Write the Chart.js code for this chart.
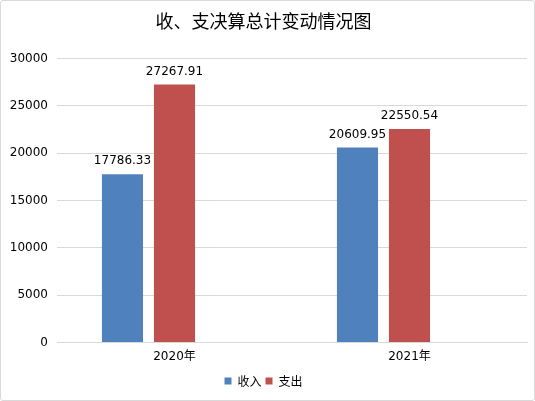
<!DOCTYPE html>
<html>
<head>
<meta charset="utf-8">
<script src="https://cdn.jsdelivr.net/npm/chart.js@4"></script>
<style>
  html, body { margin: 0; padding: 0; background: #fff; }
  #wrap { position: relative; width: 535px; height: 401px; }
  #frame { position: absolute; left: 0; top: 0; width: 535px; height: 401px; box-sizing: border-box;
           border: 1px solid #d9d9d9; border-radius: 3px; pointer-events: none; }
</style>
</head>
<body>
<div id="wrap">
  <canvas id="c" width="535" height="401"></canvas>
  <div id="frame"></div>
</div>
<script>
/* 收、支决算总计变动情况图 — two-year income / spending bars with value labels */
const years = ["2020年", "2021年"];
const income = [17786.33, 20609.95];
const spend = [27267.91, 22550.54];
const blank = [null, null]; // empty third slot, as in the source sheet
const yTicks = [0, 5000, 10000, 15000, 20000, 25000, 30000];

const C = { blue: "#4F81BD", red: "#C0504D", grid: "#d9d9d9", text: "#000" };
const NUM = "'DejaVu Sans', 'Noto Sans CJK SC', sans-serif";
const CJK = "'Noto Sans CJK SC', 'DejaVu Sans', sans-serif";

// value labels above each bar
const barLabels = {
  id: "barLabels",
  afterDatasetsDraw(chart) {
    const ctx = chart.ctx;
    ctx.save();
    ctx.font = "12px " + NUM;
    ctx.fillStyle = C.text;
    ctx.textAlign = "center";
    ctx.textBaseline = "bottom";
    [0, 1].forEach((i) => {
      const meta = chart.getDatasetMeta(i);
      meta.data.forEach((bar, j) => {
        const v = chart.data.datasets[i].data[j];
        if (v == null) return;
        ctx.fillText(v.toFixed(2), bar.x, bar.y - 7);
      });
    });
    ctx.restore();
  },
};

new Chart(document.getElementById("c"), {
  type: "bar",
  data: {
    labels: years,
    datasets: [
      { label: "收入", data: income, backgroundColor: C.blue },
      { label: "支出", data: spend, backgroundColor: C.red },
      { label: "", data: blank, backgroundColor: "rgba(0,0,0,0)" },
    ],
  },
  options: {
    responsive: false, animation: false,
    layout: { padding: { left: 0, right: 8, top: 0, bottom: 4 } },
    datasets: { bar: { categoryPercentage: 0.664, barPercentage: 0.79 } },
    plugins: {
      title: { display: true, text: "收、支决算总计变动情况图", color: C.text,
        font: { family: CJK, size: 18, weight: "normal" }, padding: { top: 10, bottom: 27 } },
      legend: { position: "bottom",
        labels: { color: C.text, font: { family: CJK, size: 12 }, boxWidth: 7, boxHeight: 7, padding: 4,
          filter: (item) => item.datasetIndex < 2 } },
      tooltip: { enabled: false },
    },
    scales: {
      x: {
        grid: { display: false, drawTicks: false },
        border: { color: C.grid },
        ticks: { color: C.text, font: { family: NUM, size: 12 }, padding: 7 },
      },
      y: {
        min: 0, max: 30000,
        afterBuildTicks: (s) => { s.ticks = yTicks.map((v) => ({ value: v })); },
        afterFit: (s) => { s.width = 57; },
        grid: { color: C.grid, drawTicks: false },
        border: { display: false },
        ticks: { color: C.text, font: { family: NUM, size: 12 }, padding: 9, callback: (v) => String(v) },
      },
    },
  },
  plugins: [barLabels],
});
</script>
</body>
</html>
